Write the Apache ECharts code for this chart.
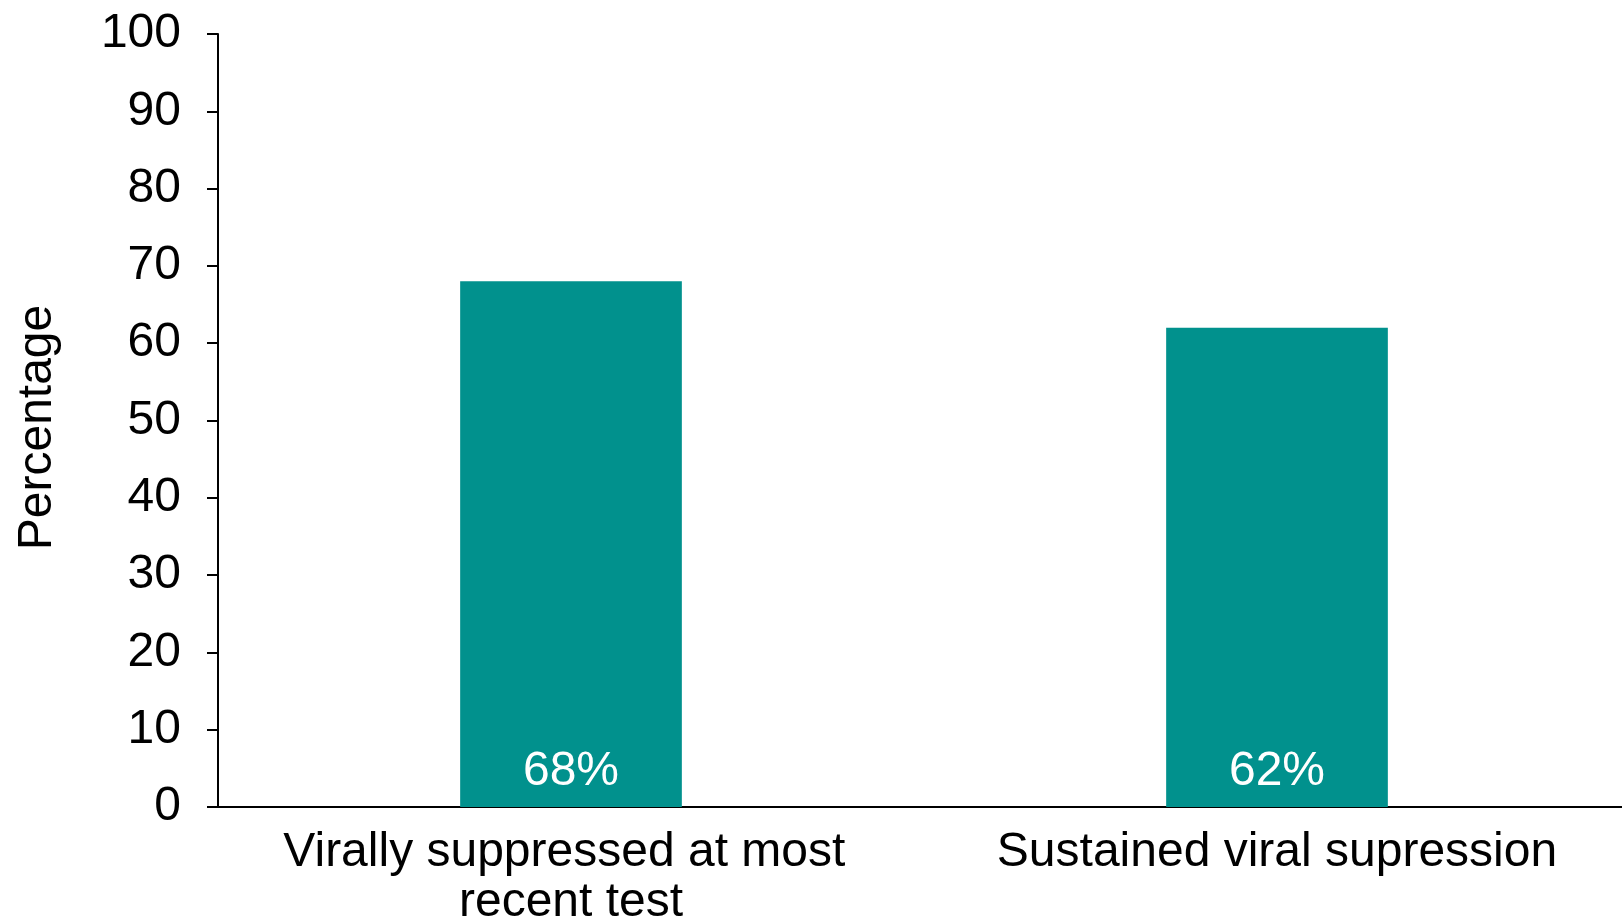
<!DOCTYPE html>
<html>
<head>
<meta charset="utf-8">
<script src="https://cdn.jsdelivr.net/npm/echarts@6/dist/echarts.min.js"></script>
<style>
html,body{margin:0;padding:0;background:#fff;}
#chart{width:1622px;height:920px;}
</style>
</head>
<body>
<div id="chart"></div>
<script>
const categories = ['Virally suppressed at most recent test', 'Sustained viral supression'];
const percentages = [68, 62];
const yTicks = [0, 10, 20, 30, 40, 50, 60, 70, 80, 90, 100];

const FONT = '"Liberation Sans", Arial, sans-serif';
const chart = echarts.init(document.getElementById('chart'));
chart.setOption({
  animation: false,
  backgroundColor: '#ffffff',
  grid: { left: 218, right: -8, top: 34, bottom: 113, containLabel: false, outerBoundsMode: 'none' },
  xAxis: {
    type: 'category',
    data: categories,
    axisLine: { lineStyle: { color: '#000', width: 2 } },
    axisTick: { show: false },
    axisLabel: {
      color: '#000', fontFamily: FONT, fontSize: 48, lineHeight: 50,
      margin: 21, width: 620, overflow: 'break', interval: 0
    }
  },
  yAxis: {
    type: 'value',
    min: yTicks[0], max: yTicks[yTicks.length - 1], interval: 10,
    name: 'Percentage',
    nameLocation: 'middle',
    nameGap: 156,
    nameTextStyle: { color: '#000', fontFamily: FONT, fontSize: 48, padding: [0, 14, 0, 0] },
    axisLine: { show: true, lineStyle: { color: '#000', width: 2 } },
    axisTick: { show: true, length: 11, lineStyle: { color: '#000', width: 2 } },
    splitLine: { show: false },
    axisLabel: { color: '#000', fontFamily: FONT, fontSize: 48, margin: 37 }
  },
  series: [{
    type: 'bar',
    data: percentages,
    barWidth: '31.4%',
    itemStyle: { color: '#01918d' },
    label: {
      show: true, position: 'insideBottom', distance: 11,
      color: '#fff', fontFamily: FONT, fontSize: 48,
      formatter: p => p.value + '%'
    }
  }]
});
</script>
</body>
</html>
